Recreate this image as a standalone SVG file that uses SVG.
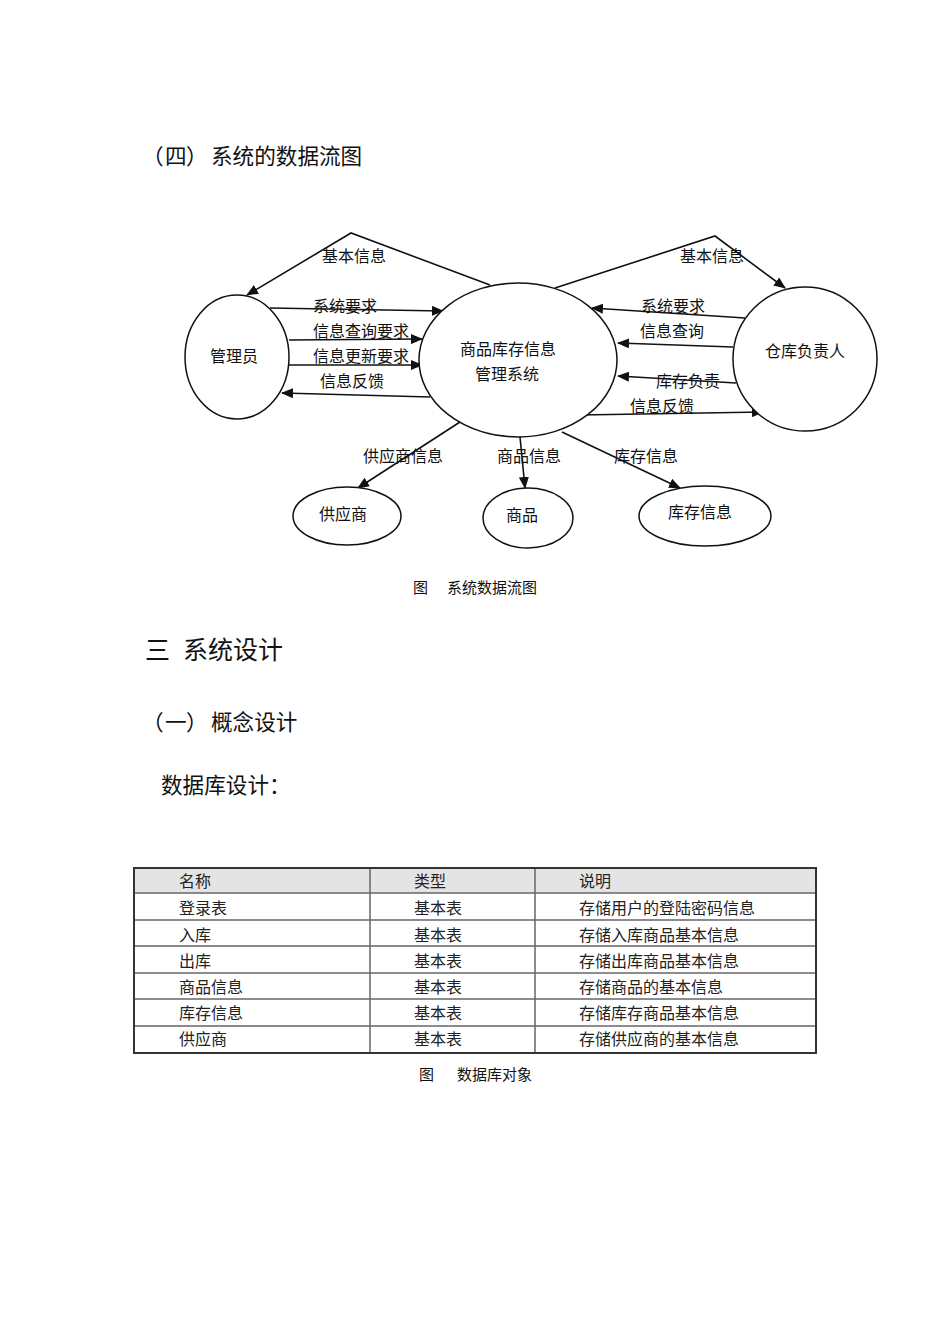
<svg xmlns="http://www.w3.org/2000/svg" width="950" height="1344" viewBox="0 0 950 1344">
<style>
text{font-family:"Noto Sans CJK SC","Liberation Sans",sans-serif;fill:#111}
.lbl{font-size:16px;text-anchor:middle}
.h{font-size:21.6px}
.cap{font-size:15px}
.tb{font-size:16px;fill:#222}
.node{fill:#fff;stroke:#111;stroke-width:1.5}
.ln{fill:none;stroke:#111;stroke-width:1.6}
.arr{marker-end:url(#ah)}
.grid{stroke:#666;stroke-width:1.5}
</style>
<defs>
<marker id="ah" viewBox="0 0 12 10" refX="11" refY="5" markerWidth="12" markerHeight="10" markerUnits="userSpaceOnUse" orient="auto">
<path d="M0,0 L12,5 L0,10 Z" fill="#111"/>
</marker>
</defs>
<rect width="950" height="1344" fill="#fff"/>

<text class="h" y="164"><tspan x="142">（</tspan><tspan x="165">四</tspan><tspan x="186">）</tspan><tspan x="211">系统的数据流图</tspan></text>

<g id="connectors">
<polyline class="ln arr" points="490,285 351,233 247,295"/>
<polyline class="ln arr" points="555,288 715,236 785,288"/>
<line class="ln arr" x1="270" y1="308" x2="443" y2="311"/>
<line class="ln arr" x1="289" y1="340" x2="422" y2="339"/>
<line class="ln arr" x1="289" y1="365" x2="422" y2="365"/>
<line class="ln arr" x1="430" y1="397" x2="282" y2="393"/>
<line class="ln arr" x1="745" y1="318" x2="592" y2="308"/>
<line class="ln arr" x1="733" y1="347" x2="618" y2="343"/>
<line class="ln arr" x1="736" y1="383" x2="618" y2="376"/>
<line class="ln arr" x1="580" y1="415" x2="763" y2="412"/>
<line class="ln arr" x1="460" y1="422" x2="358" y2="488"/>
<line class="ln arr" x1="520" y1="437" x2="525" y2="488"/>
<line class="ln arr" x1="562" y1="432" x2="680" y2="488"/>
<text class="lbl" x="354" y="262">基本信息</text>
<text class="lbl" x="712" y="262">基本信息</text>
<text class="lbl" x="345" y="312">系统要求</text>
<text class="lbl" x="361" y="337">信息查询要求</text>
<text class="lbl" x="361" y="362">信息更新要求</text>
<text class="lbl" x="352" y="387">信息反馈</text>
<text class="lbl" x="673" y="312">系统要求</text>
<text class="lbl" x="672" y="337">信息查询</text>
<text class="lbl" x="688" y="387">库存负责</text>
<text class="lbl" x="662" y="412">信息反馈</text>
<text class="lbl" x="403" y="462">供应商信息</text>
<text class="lbl" x="529" y="462">商品信息</text>
<text class="lbl" x="646" y="462">库存信息</text>
</g>

<g id="admin">
<ellipse class="node" cx="237" cy="357" rx="52" ry="62"/>
<text class="lbl" x="234" y="362">管理员</text>
</g>
<g id="system">
<ellipse class="node" cx="518" cy="360" rx="99" ry="77"/>
<text class="lbl" x="508" y="355">商品库存信息</text>
<text class="lbl" x="507" y="380">管理系统</text>
</g>
<g id="keeper">
<ellipse class="node" cx="805" cy="359" rx="72" ry="72"/>
<text class="lbl" x="805" y="357">仓库负责人</text>
</g>
<g id="supplier">
<ellipse class="node" cx="347" cy="516" rx="54" ry="29"/>
<text class="lbl" x="343" y="520">供应商</text>
</g>
<g id="goods">
<ellipse class="node" cx="528" cy="518" rx="45" ry="30"/>
<text class="lbl" x="522" y="521">商品</text>
</g>
<g id="stock">
<ellipse class="node" cx="705" cy="516" rx="66" ry="30"/>
<text class="lbl" x="700" y="518">库存信息</text>
</g>

<text class="cap" x="413" y="593">图</text>
<text class="cap" x="447" y="593">系统数据流图</text>

<text x="145" y="659" style="font-size:25px">三</text>
<text x="183" y="659" style="font-size:25px">系统设计</text>
<text class="h" y="730"><tspan x="142">（</tspan><tspan x="165">一</tspan><tspan x="186">）</tspan><tspan x="211">概念设计</tspan></text>
<text class="h" x="161" y="793">数据库设计：</text>

<g id="table">
<rect x="134" y="868" width="682" height="25" fill="#e4e4e4"/>
<line class="grid" x1="134" y1="893" x2="816" y2="893"/>
<line class="grid" x1="134" y1="920" x2="816" y2="920"/>
<line class="grid" x1="134" y1="946" x2="816" y2="946"/>
<line class="grid" x1="134" y1="973" x2="816" y2="973"/>
<line class="grid" x1="134" y1="999" x2="816" y2="999"/>
<line class="grid" x1="134" y1="1026" x2="816" y2="1026"/>
<line class="grid" x1="370" y1="868" x2="370" y2="1053"/>
<line class="grid" x1="535" y1="868" x2="535" y2="1053"/>
<rect x="134" y="868" width="682" height="185" fill="none" stroke="#333" stroke-width="2"/>
<text class="tb" x="179" y="887">名称</text>
<text class="tb" x="414" y="887">类型</text>
<text class="tb" x="579" y="887">说明</text>
<text class="tb" x="179" y="914">登录表</text>
<text class="tb" x="414" y="914">基本表</text>
<text class="tb" x="579" y="914">存储用户的登陆密码信息</text>
<text class="tb" x="179" y="941">入库</text>
<text class="tb" x="414" y="941">基本表</text>
<text class="tb" x="579" y="941">存储入库商品基本信息</text>
<text class="tb" x="179" y="967">出库</text>
<text class="tb" x="414" y="967">基本表</text>
<text class="tb" x="579" y="967">存储出库商品基本信息</text>
<text class="tb" x="179" y="993">商品信息</text>
<text class="tb" x="414" y="993">基本表</text>
<text class="tb" x="579" y="993">存储商品的基本信息</text>
<text class="tb" x="179" y="1019">库存信息</text>
<text class="tb" x="414" y="1019">基本表</text>
<text class="tb" x="579" y="1019">存储库存商品基本信息</text>
<text class="tb" x="179" y="1045">供应商</text>
<text class="tb" x="414" y="1045">基本表</text>
<text class="tb" x="579" y="1045">存储供应商的基本信息</text>
</g>

<text class="cap" x="419" y="1080">图</text>
<text class="cap" x="457" y="1080">数据库对象</text>
</svg>
